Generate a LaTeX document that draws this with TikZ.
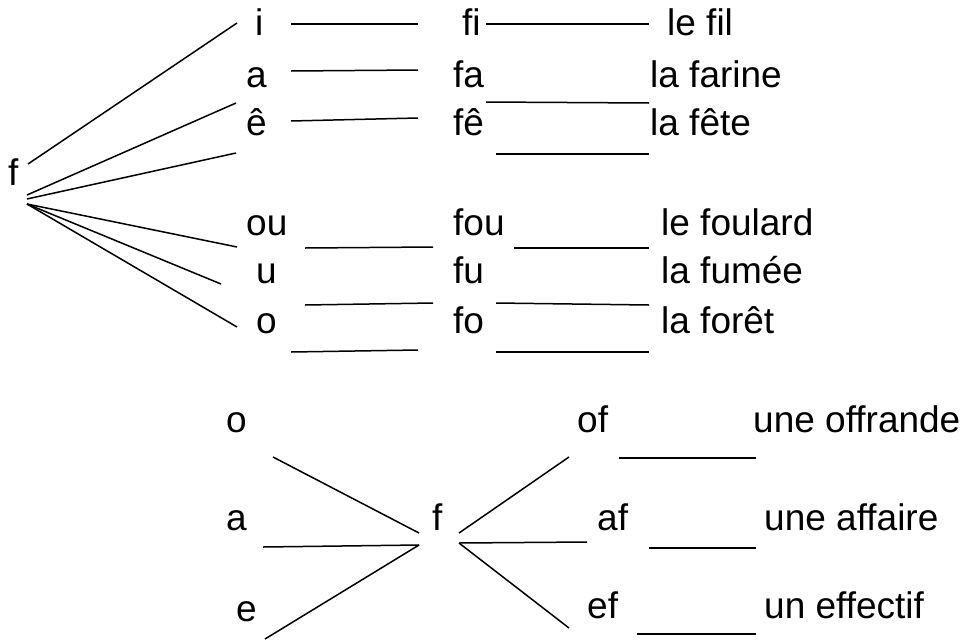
\documentclass[tikz,border=0pt]{standalone}
\usepackage{fontspec}
\setmainfont{Liberation Sans}
\begin{document}
\begin{tikzpicture}[x=1pt,y=-1pt,
  lbl/.style={anchor=base west, inner sep=0pt, font=\fontsize{37}{44}\selectfont},
  ln/.style={line width=1.5pt, line cap=butt}]
\useasboundingbox (0,0) rectangle (968,640);
% ---------- upper part: labels ----------
\node[lbl] (f) at (8,185) {f};
\node[lbl] (vi)  at (255,35)  {i};
\node[lbl] (va)  at (246,87)  {a};
\node[lbl] (ve)  at (246,135) {ê};
\node[lbl] (vou) at (246,235) {ou};
\node[lbl] (vu)  at (256,283) {u};
\node[lbl] (vo)  at (256,333) {o};
\node[lbl] (fi)  at (462,35)  {fi};
\node[lbl] (fa)  at (453,87)  {fa};
\node[lbl] (fe)  at (453,135) {fê};
\node[lbl] (fou) at (453,235) {fou};
\node[lbl] (fu)  at (453,283) {fu};
\node[lbl] (fo)  at (453,333) {fo};
\node[lbl] (w1) at (667,35)  {le fil};
\node[lbl] (w2) at (650,87)  {la farine};
\node[lbl] (w3) at (650,135) {la fête};
\node[lbl] (w4) at (661,235) {le foulard};
\node[lbl] (w5) at (661,283) {la fumée};
\node[lbl] (w6) at (661,333) {la forêt};
% fan coordinates
\coordinate (fa1) at (28,164);
\coordinate (fa2) at (27,195);
\coordinate (fa3) at (27,199);
\coordinate (fa4) at (27,204);
\coordinate (e1) at (237,23);
\coordinate (e2) at (236,103);
\coordinate (e3) at (236,153);
\coordinate (e4) at (237,247);
\coordinate (e5) at (221,284);
\coordinate (e6) at (237,327);
\draw[ln] (fa1) -- (e1);
\draw[ln] (fa2) -- (e2);
\draw[ln] (fa3) -- (e3);
\draw[ln] (fa4) -- (e4);
\draw[ln] (fa4) -- (e5);
\draw[ln] (fa4) -- (e6);
% left blanks
\coordinate (l1a) at (291,24);  \coordinate (l1b) at (418,24);
\coordinate (l2a) at (291,71);  \coordinate (l2b) at (418,70);
\coordinate (l3a) at (291,121); \coordinate (l3b) at (418,118);
\coordinate (l4a) at (305,248); \coordinate (l4b) at (433,247);
\coordinate (l5a) at (305,305); \coordinate (l5b) at (433,303);
\coordinate (l6a) at (291,352); \coordinate (l6b) at (418,350);
\foreach \i in {1,...,6} \draw[ln] (l\i a) -- (l\i b);
% right blanks
\coordinate (r1a) at (486,24);  \coordinate (r1b) at (649,24);
\coordinate (r2a) at (486,102); \coordinate (r2b) at (649,103);
\coordinate (r3a) at (496,154); \coordinate (r3b) at (649,154);
\coordinate (r4a) at (514,248); \coordinate (r4b) at (649,248);
\coordinate (r5a) at (496,303); \coordinate (r5b) at (649,305);
\coordinate (r6a) at (496,352); \coordinate (r6b) at (649,352);
\foreach \i in {1,...,6} \draw[ln] (r\i a) -- (r\i b);
% ---------- lower part ----------
\node[lbl] (bo) at (226,432) {o};
\node[lbl] (ba) at (226,530) {a};
\node[lbl] (be) at (236,621) {e};
\node[lbl] (bf) at (432,530) {f};
\node[lbl] (of) at (577,432) {of};
\node[lbl] (af) at (597,530) {af};
\node[lbl] (ef) at (587,618) {ef};
\node[lbl] (x1) at (753,432) {une offrande};
\node[lbl] (x2) at (764,530) {une affaire};
\node[lbl] (x3) at (764,618) {un effectif};
\coordinate (bl1) at (419,533);
\coordinate (bl2) at (419,545);
\coordinate (br1) at (459,533);
\coordinate (br2) at (459,543);
\coordinate (o1) at (273,457);
\coordinate (a1) at (263,547);
\coordinate (e7) at (265,639);
\coordinate (of1) at (569,457);
\coordinate (af1) at (587,542);
\coordinate (ef1) at (569,628);
\draw[ln] (o1) -- (bl1);
\draw[ln] (a1) -- (bl2);
\draw[ln] (e7) -- (bl2);
\draw[ln] (br1) -- (of1);
\draw[ln] (br2) -- (af1);
\draw[ln] (br2) -- (ef1);
\coordinate (u1a) at (619,458); \coordinate (u1b) at (756,458);
\coordinate (u2a) at (649,548); \coordinate (u2b) at (756,548);
\coordinate (u3a) at (637,634); \coordinate (u3b) at (756,634);
\foreach \i in {1,2,3} \draw[ln] (u\i a) -- (u\i b);
\end{tikzpicture}
\end{document}
